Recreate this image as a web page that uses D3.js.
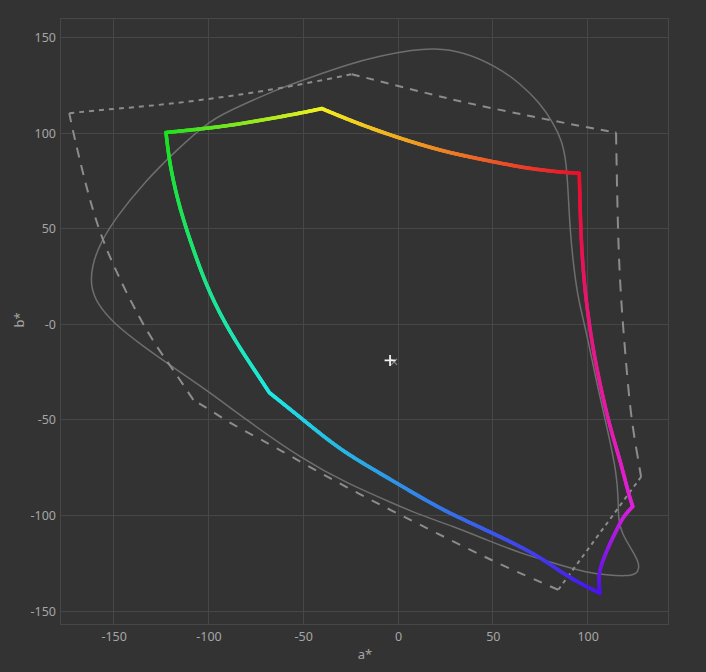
<!DOCTYPE html>
<html>
<head>
<meta charset="utf-8">
<script src="https://cdn.jsdelivr.net/npm/d3@7"></script>
<style>
  html, body { margin: 0; padding: 0; background: #333333; }
  svg { display: block; }
</style>
</head>
<body>
<svg id="chart" width="706" height="672"></svg>
<script>
// ---------- data (a*, b*) ----------
const xTicks = [-150, -100, -50, 0, 50, 100];
const xTickLabels = ["-150", "-100", "-50", "0", "50", "100"];
const yTicks = [150, 100, 50, 0, -50, -100, -150];
const yTickLabels = ["150", "100", "50", "-0", "-50", "-100", "-150"];
const xDomain = [-178.3, 142.4];
const yDomain = [-156.8, 160.3];

// colored gamut boundary, split at its corners
const cornerColors = {
  green: "#1ee01e", yellow: "#f2f020", red: "#e8102c",
  magenta: "#e020d8", blue: "#4a12ee", cyan: "#1ee8e2"
};
const edgeGreenYellow = [[-122.4,100.4],[-99.2,102.7],[-83.3,104.9],[-65.9,107.9],[-50.1,110.8],[-40.2,112.9]];
const edgeYellowRed = [[-40.2,112.9],[-21.8,105.3],[0,97.6],[22.2,91.0],[35.9,88.0],[53.4,84.4],[71.0,81.2],[88.6,79.4],[95.6,79.1]];
const edgeRedMagenta = [[95.6,79.1],[96.3,50.0],[97.6,28.5],[99.2,12.8],[101.3,-2.9],[103.9,-18.6],[108.3,-39.5],[112.7,-56.9],[117.1,-70.9],[121.5,-88.3],[123.8,-95.3]];
const edgeMagentaBlue = [[123.8,-95.3],[119.5,-99.8],[117.1,-104.0],[111.8,-114.5],[107.4,-125.0],[105.6,-132.0],[106.5,-140.7]];
const edgeBlueCyan = [[106.5,-140.7],[89.0,-132.0],[74.9,-121.5],[53.8,-111.0],[32.7,-101.4],[22.2,-96.2],[8.1,-88.3],[-9.5,-77.9],[-30.6,-65.7],[-49.9,-50.0],[-67.9,-35.7]];
const edgeCyanGreen = [[-67.9,-35.7],[-73.3,-27.5],[-82.8,-13.4],[-92.3,2.3],[-100.9,19.8],[-108.0,39.0],[-115.0,59.9],[-120.3,82.4],[-122.4,100.4]];

// solid gray closed curve
const locus = [[18.6,144.5],[34.4,142.8],[52.1,134.9],[64.3,126.2],[74.9,115.8],[81.9,105.3],[86.3,96.5],[88.6,86.1],[89.7,70.4],[90.7,49.5],[92.8,28.5],[95.1,12.8],[99.5,-4.6],[104.8,-30.8],[110.9,-56.9],[115.3,-77.9],[116.2,-91.8],[116.2,-102.3],[118.0,-109.3],[123.3,-118.0],[126.7,-124.0],[127.2,-127.5],[125.9,-130.6],[120.6,-131.8],[110.1,-131.1],[99.5,-129.9],[85.4,-125.9],[64.3,-119.7],[46.8,-112.8],[29.2,-105.8],[11.6,-99.7],[-0.7,-94.5],[-27.1,-83.1],[-49.9,-70.9],[-79.8,-50.2],[-99.2,-35.6],[-118.5,-22.6],[-134.3,-11.6],[-150.2,0.6],[-158.9,11.1],[-162.1,19.8],[-161.6,30.2],[-157.2,42.5],[-148.4,56.4],[-134.3,73.9],[-116.7,91.3],[-99.2,107.0],[-83.3,114.3],[-62.2,123.6],[-44.7,129.7],[-27.1,135.8],[-9.5,140.5],[8.1,143.6]];

// dashed gray polygon, split at its corners
const dashTopLeft = [[-173.4,110.5],[-157.2,112.2],[-122.0,114.9],[-79.8,120.6],[-51.7,125.4],[-24.4,130.9]];
const dashTopRight = [[-24.4,130.9],[8.1,122.7],[35.9,115.8],[71.0,108.7],[97.4,103.5],[115.0,100.4]];
const dashRight = [[115.0,100.4],[116.0,44.2],[117.6,12.8],[119.7,-13.3],[122.7,-48.2],[126.7,-70.9],[128.2,-79.8]];
const dashBottomRight = [[128.2,-79.8],[84.5,-138.9]];
const dashBottom = [[84.5,-138.9],[52.1,-125.0],[16.9,-107.5],[-27.1,-85.7],[-68.4,-62.2],[-88.6,-51.8],[-99.2,-44.7],[-108.0,-39.5]];
const dashLeft = [[-108.0,-39.5],[-111.5,-34.3],[-118.5,-23.9],[-132.5,-4.6],[-150.2,30.2],[-160.7,56.4],[-171.3,100.1],[-173.4,110.5]];

const whitePoint = [-4.2, -18.9];
const whitePoint2 = [-2.1, -19.6];

// ---------- layout ----------
const svg = d3.select("#chart");
const margin = {left: 60, top: 18, right: 38, bottom: 48};
const W = 706, H = 672;
const x = d3.scaleLinear().domain(xDomain).range([margin.left, W - margin.right]);
const y = d3.scaleLinear().domain(yDomain).range([H - margin.bottom, margin.top]);

const gridColor = "#474747";
const textColor = "#a6a6a6";
const font = "'Noto Sans', 'Open Sans', sans-serif";

// grid
const grid = svg.append("g");
grid.selectAll("line.vx").data(xTicks).join("line")
  .attr("x1", d => x(d)).attr("x2", d => x(d))
  .attr("y1", margin.top).attr("y2", H - margin.bottom)
  .attr("stroke", gridColor).attr("stroke-width", 1).attr("shape-rendering", "crispEdges");
grid.selectAll("line.hy").data(yTicks).join("line")
  .attr("x1", margin.left).attr("x2", W - margin.right)
  .attr("y1", d => y(d)).attr("y2", d => y(d))
  .attr("stroke", gridColor).attr("stroke-width", 1).attr("shape-rendering", "crispEdges");
svg.append("rect")
  .attr("x", margin.left).attr("y", margin.top)
  .attr("width", W - margin.left - margin.right).attr("height", H - margin.top - margin.bottom)
  .attr("fill", "none").attr("stroke", gridColor).attr("shape-rendering", "crispEdges");

// axes (tick labels only)
const xAxis = d3.axisBottom(x).tickValues(xTicks).tickSize(0).tickPadding(8)
  .tickFormat((d, i) => xTickLabels[i]);
const gx = svg.append("g").attr("transform", `translate(0,${H - margin.bottom})`).call(xAxis);
const yAxis = d3.axisLeft(y).tickValues(yTicks).tickSize(0).tickPadding(4)
  .tickFormat((d, i) => yTickLabels[i]);
const gy = svg.append("g").attr("transform", `translate(${margin.left},0)`).call(yAxis);
[gx, gy].forEach(g => {
  g.select(".domain").remove();
  g.selectAll("text").attr("fill", textColor).style("font-family", font).style("font-size", "12.5px");
});

svg.append("text").attr("x", 365).attr("y", 659).attr("text-anchor", "middle")
  .attr("fill", textColor).style("font-family", font).style("font-size", "13px").text("a*");
svg.append("text").attr("transform", "translate(24,320) rotate(-90)").attr("text-anchor", "middle")
  .attr("fill", textColor).style("font-family", font).style("font-size", "13px").text("b*");

const line = d3.line().x(d => x(d[0])).y(d => y(d[1])).curve(d3.curveBasis);

// solid gray curve
svg.append("path")
  .attr("d", d3.line().x(d => x(d[0])).y(d => y(d[1])).curve(d3.curveBasisClosed)(locus))
  .attr("fill", "none").attr("stroke", "#6e6e6e").attr("stroke-width", 1.5);

// dashed gray polygon
const dashEdges = [
  [dashTopLeft, "5,5"], [dashTopRight, "8,7"], [dashRight, "12,9"],
  [dashBottomRight, "4,4"], [dashBottom, "9,9"], [dashLeft, "10,8"]
];
dashEdges.forEach(([pts, dash]) => {
  svg.append("path").attr("d", line(pts))
    .attr("fill", "none").attr("stroke", "#8c8c8c").attr("stroke-width", 2)
    .attr("stroke-dasharray", dash);
});

// colored gamut with gradient along edges
const gamutEdges = [
  [edgeGreenYellow, "green", "yellow"],
  [edgeYellowRed, "yellow", "red"],
  [edgeRedMagenta, "red", "magenta"],
  [edgeMagentaBlue, "magenta", "blue"],
  [edgeBlueCyan, "blue", "cyan"],
  [edgeCyanGreen, "cyan", "green"]
];
const gGamut = svg.append("g");
gamutEdges.forEach(([pts, c0, c1]) => {
  const tmp = gGamut.append("path").attr("d", line(pts)).attr("fill", "none").attr("stroke", "none");
  const node = tmp.node();
  const len = node.getTotalLength();
  const n = Math.max(2, Math.ceil(len / 1.5));
  const interp = d3.interpolateRgb(cornerColors[c0], cornerColors[c1]);
  let prev = node.getPointAtLength(0);
  for (let i = 1; i <= n; i++) {
    const p = node.getPointAtLength(len * i / n);
    gGamut.append("line")
      .attr("x1", prev.x).attr("y1", prev.y).attr("x2", p.x).attr("y2", p.y)
      .attr("stroke", interp((i - 0.5) / n)).attr("stroke-width", 3.6)
      .attr("stroke-linecap", "round");
    prev = p;
  }
  tmp.remove();
});

// white point markers
const wx2 = x(whitePoint2[0]), wy2 = y(whitePoint2[1]);
svg.append("path").attr("d", `M${wx2-3},${wy2-3}L${wx2+3},${wy2+3}M${wx2-3},${wy2+3}L${wx2+3},${wy2-3}`)
  .attr("stroke", "#8a8a8a").attr("stroke-width", 1.2);
const wx = x(whitePoint[0]), wy = y(whitePoint[1]);
svg.append("path").attr("d", `M${wx-5.5},${wy}L${wx+5.5},${wy}M${wx},${wy-5.5}L${wx},${wy+5.5}`)
  .attr("stroke", "#f0f0f0").attr("stroke-width", 1.8);
</script>
</body>
</html>
